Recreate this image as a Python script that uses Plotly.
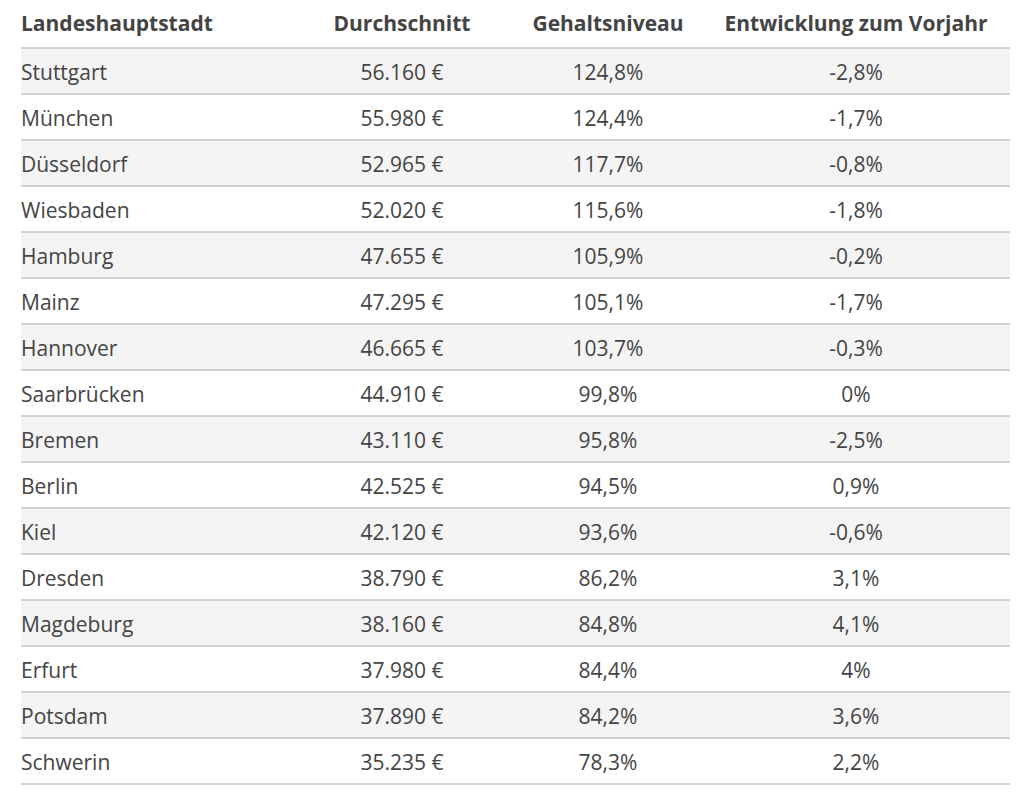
import plotly.graph_objects as go

# ---- data ----
headers = ["Landeshauptstadt", "Durchschnitt", "Gehaltsniveau", "Entwicklung zum Vorjahr"]
cities = ["Stuttgart", "München", "Düsseldorf", "Wiesbaden", "Hamburg", "Mainz", "Hannover",
          "Saarbrücken", "Bremen", "Berlin", "Kiel", "Dresden", "Magdeburg", "Erfurt",
          "Potsdam", "Schwerin"]
durchschnitt = [56160, 55980, 52965, 52020, 47655, 47295, 46665, 44910, 43110, 42525,
                42120, 38790, 38160, 37980, 37890, 35235]
gehaltsniveau = [124.8, 124.4, 117.7, 115.6, 105.9, 105.1, 103.7, 99.8, 95.8, 94.5,
                 93.6, 86.2, 84.8, 84.4, 84.2, 78.3]
entwicklung = [-2.8, -1.7, -0.8, -1.8, -0.2, -1.7, -0.3, 0, -2.5, 0.9,
               -0.6, 3.1, 4.1, 4, 3.6, 2.2]


def fmt_eur(v):
    return f"{v:,}".replace(",", ".") + " €"


def fmt_pct(v):
    return f"{v:g}".replace(".", ",") + "%"


# ---- layout geometry (pixel-like axis units, page coordinates) ----
W, H = 1029, 803
page_off = 8  # default body margin of the html page
left, right = 21, 1010
header_h, row_h = 48, 46
col_x = [21, 402, 608, 856]
text_dy = 4
text_color = "#444444"
font_family = "Open Sans"
fsize = 21

fig = go.Figure()

n = len(cities)
row_center = [header_h + row_h * i + row_h / 2 + text_dy for i in range(n)]
header_y = 22 + text_dy

shapes = []
for i in range(n):
    y0 = header_h + row_h * i
    y1 = y0 + row_h
    if i % 2 == 0:
        shapes.append(dict(type="rect", xref="x", yref="y", x0=left, x1=right, y0=y0, y1=y1,
                           fillcolor="#f4f4f4", line=dict(width=0), layer="below"))
for i in range(n + 1):
    y = header_h + row_h * i
    shapes.append(dict(type="line", xref="x", yref="y", x0=left, x1=right, y0=y, y1=y,
                       line=dict(color="#c4c4c4", width=1.3)))

head_font = dict(family=font_family, size=fsize, color=text_color, weight="bold")
body_font = dict(family=font_family, size=fsize, color=text_color)

common = dict(mode="text", hoverinfo="skip", showlegend=False, cliponaxis=False)

# header
fig.add_trace(go.Scatter(x=[col_x[0]], y=[header_y], text=[headers[0]],
                         textposition="middle right", textfont=head_font, **common))
fig.add_trace(go.Scatter(x=col_x[1:], y=[header_y] * 3, text=headers[1:],
                         textposition="middle center", textfont=head_font, **common))

# body
fig.add_trace(go.Scatter(x=[col_x[0]] * n, y=row_center, text=cities,
                         textposition="middle right", textfont=body_font, **common))
fig.add_trace(go.Scatter(x=[col_x[1]] * n, y=row_center,
                         text=[fmt_eur(v) for v in durchschnitt],
                         textposition="middle center", textfont=body_font, **common))
fig.add_trace(go.Scatter(x=[col_x[2]] * n, y=row_center,
                         text=[fmt_pct(v) for v in gehaltsniveau],
                         textposition="middle center", textfont=body_font, **common))
fig.add_trace(go.Scatter(x=[col_x[3]] * n, y=row_center,
                         text=[fmt_pct(v) for v in entwicklung],
                         textposition="middle center", textfont=body_font, **common))

fig.update_layout(
    width=W, height=H,
    margin=dict(l=0, r=0, t=0, b=0),
    paper_bgcolor="white", plot_bgcolor="white",
    xaxis=dict(range=[page_off, W + page_off], visible=False, fixedrange=True),
    yaxis=dict(range=[H + page_off, page_off], visible=False, fixedrange=True),
    shapes=shapes,
)

fig.write_html("out.html")
